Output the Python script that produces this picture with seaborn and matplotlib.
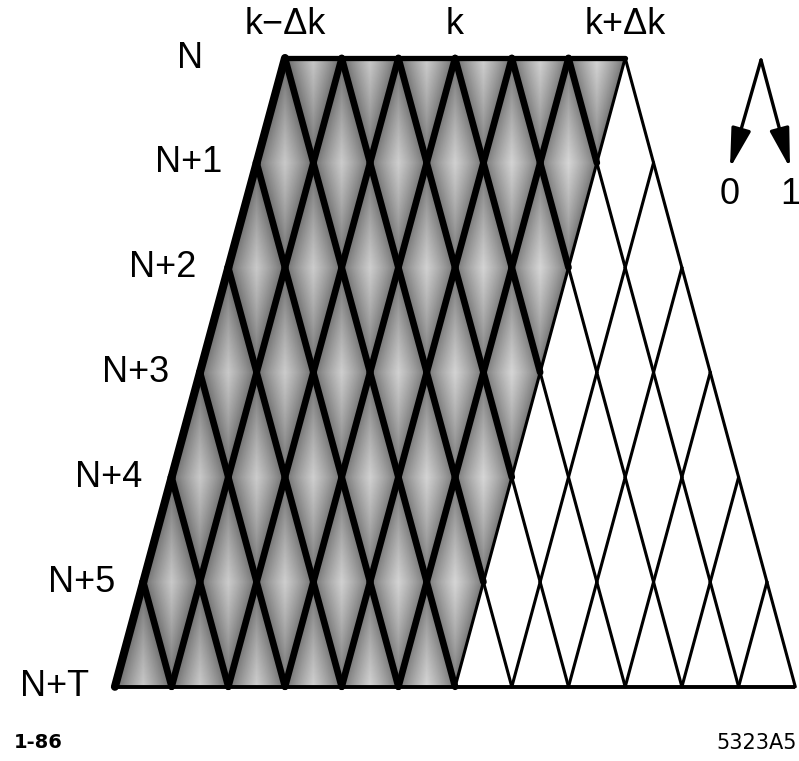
import numpy as np
import pandas as pd
import matplotlib
matplotlib.use("Agg")
import matplotlib.pyplot as plt
from matplotlib.patches import Polygon, FancyArrowPatch
import seaborn as sns

sns.set_theme(style="white")
plt.rcParams['font.family'] = ['Liberation Sans', 'DejaVu Sans']
plt.rcParams['text.color'] = 'black'

# trellis data
level_labels = ['N', 'N+1', 'N+2', 'N+3', 'N+4', 'N+5', 'N+T']
top_labels = ['k\u2212\u0394k', 'k', 'k+\u0394k']
top_label_nodes = [0, 3, 6]       # node index on the first level
n_top_nodes = 7                   # nodes on level N
branch_labels = ['0', '1']
figure_id = '1-86'
drawing_no = '5323A5'

# layout (pixel units)
x0, y0 = 285.0, 58.0      # first node on level N
half = 28.35              # half of node spacing
dy = 104.8                # level spacing
label_x = [190, 189, 163, 136, 109, 82, 55]

n_levels = len(level_labels)


def node(j, i):
    return x0 - half * j + 2 * half * i, y0 + dy * j


# build edge segments
rows = []
seg = 0
for j in range(n_levels - 1):
    for i in range(n_top_nodes + j):
        for di in (0, 1):
            a = node(j, i)
            b = node(j + 1, i + di)
            shaded = (i + di) <= n_top_nodes - 1 and not (i == n_top_nodes - 1 and di == 0)
            kind = 'thick' if shaded else 'thin'
            if i == 0 and di == 0:
                kind = 'edge'
            rows.append((seg, a[0], a[1], kind))
            rows.append((seg, b[0], b[1], kind))
            seg += 1
edges = pd.DataFrame(rows, columns=['seg', 'x', 'y', 'kind'])

W, H = 799, 761
fig = plt.figure(figsize=(W / 100, H / 100), dpi=100)
ax = fig.add_axes([0, 0, 1, 1])

# shaded region: darker close to the lines, lighter in the diamond centres
last = n_levels - 1
k = n_top_nodes - 1
poly_pts = [node(0, 0), node(0, k), node(last, k), node(last, 0)]
shade = Polygon(poly_pts, closed=True, facecolor='none', edgecolor='none')
ax.add_patch(shade)

X, Y = np.meshgrid(np.arange(W) + 0.5, np.arange(H) + 0.5)
t = (Y - y0) / dy
u = X - x0 - half * t
v = X - x0 + half * t
d1 = np.abs(u - 2 * half * np.round(u / (2 * half)))
d2 = np.abs(v - 2 * half * np.round(v / (2 * half)))
d = np.minimum(d1, d2) / half
g = 0.38 + 0.40 * d ** 0.8 + 0.06 * np.clip(v / (12 * half), 0, 1)
img = ax.imshow(g, cmap='gray', vmin=0, vmax=1, extent=(0, W, H, 0),
                interpolation='bilinear', aspect='auto', zorder=1)
img.set_clip_path(shade)

styles = {'thin': 2.2, 'thick': 4.8, 'edge': 5.8}
for kind, lw in styles.items():
    sub = edges[edges['kind'] == kind]
    sns.lineplot(data=sub, x='x', y='y', units='seg', estimator=None, sort=False,
                 color='black', lw=lw, ax=ax, legend=False,
                 solid_capstyle='round', zorder=3)

# top and bottom edges
tx = [node(0, 0)[0], node(0, k)[0]]
ax.plot(tx, [y0, y0], color='black', lw=3.8, zorder=4, solid_capstyle='round')
bx = [node(last, 0)[0], node(last, last + k)[0]]
yb = node(last, 0)[1]
ax.plot(bx, [yb, yb], color='black', lw=2.8, zorder=4, solid_capstyle='butt')

ax.set_xlim(0, W)
ax.set_ylim(H, 0)
ax.axis('off')

# labels
for j, lab in enumerate(level_labels):
    ax.text(label_x[j], y0 + dy * j, lab, ha='center', va='center', fontsize=26)
for lab, i in zip(top_labels, top_label_nodes):
    ax.text(node(0, i)[0], 24, lab, ha='center', va='center', fontsize=26)

# branch arrows
apex = (761, 60)
tips = [(730, 168), (790, 168)]
for (tx_, ty_), lab in zip(tips, branch_labels):
    arr = FancyArrowPatch(apex, (tx_, ty_), arrowstyle='-|>,head_length=1.2,head_width=0.3',
                          mutation_scale=20, lw=2.4, color='black', shrinkA=0, shrinkB=0)
    ax.add_patch(arr)
    ax.text(tx_, ty_ + 27, lab, ha='center', va='center', fontsize=26)

ax.text(14, 743, figure_id, ha='left', va='center', fontsize=14, fontweight='bold',
        family='DejaVu Sans')
ax.text(797, 743, drawing_no, ha='right', va='center', fontsize=15, family='DejaVu Sans')

fig.savefig('out.png', dpi=100, facecolor='white')
